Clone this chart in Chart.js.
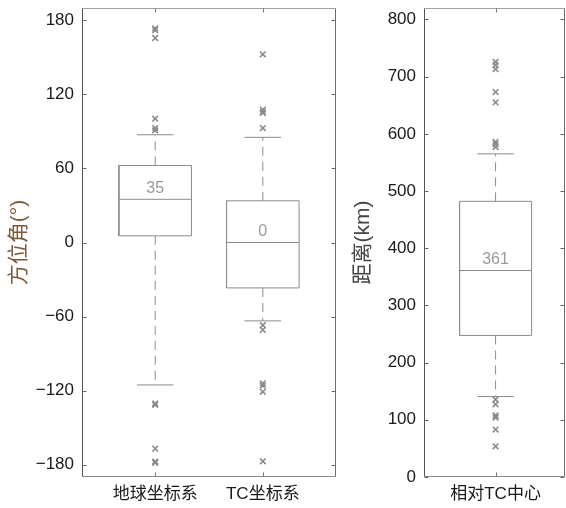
<!DOCTYPE html>
<html>
<head>
<meta charset="utf-8">
<script src="https://cdn.jsdelivr.net/npm/chart.js@4.4.1/dist/chart.umd.min.js"></script>
<style>
  html, body { margin: 0; padding: 0; background: #fff; }
  .wrap { position: absolute; top: 0; height: 508px; }
  #leftWrap { left: 0; width: 345px; }
  #rightWrap { left: 345px; width: 221px; }
</style>
</head>
<body>
<div class="wrap" id="leftWrap"><canvas id="leftChart"></canvas></div>
<div class="wrap" id="rightWrap"><canvas id="rightChart"></canvas></div>
<script>
// left panel: azimuth (deg) in two frames
const leftCategories = ['地球坐标系', 'TC坐标系'];
const leftQ1 = [5.4, -36.8];
const leftMedian = [35, 0];
const leftQ3 = [62.4, 33.8];
const leftLowerWhisker = [-115.4, -63.5];
const leftUpperWhisker = [87.3, 85.2];
const leftOutliers = [
    [173.5, 172, 165.7, 100.3, 92.7, 90.8, -130.5, -131.5, -167, -177.5, -178.5],
    [152.5, 107.6, 105.7, 105, 92.7, -67, -70.8, -114.1, -116, -121, -177.3]
];
const leftTicks = [-180, -120, -60, 0, 60, 120, 180];

// right panel: distance (km) from TC centre
const rightCategories = ['相对TC中心'];
const rightQ1 = [247.5];
const rightMedian = [361];
const rightQ3 = [482];
const rightLowerWhisker = [140.7];
const rightUpperWhisker = [565];
const rightOutliers = [
    [725.7, 720, 713, 673, 655, 586, 582, 577, 135.5, 127, 107.5, 104, 83, 53.7]
];
const rightTicks = [0, 100, 200, 300, 400, 500, 600, 700, 800];

const BOX_HALF = 0.337;
const CAP_HALF = 0.17;
const LINE_COLOR = '#8c8c8c';
const FONT = '"Liberation Sans", Arial, "Noto Sans CJK SC", sans-serif';

function seg(points, dashed) {
    return {
        data: points,
        showLine: true,
        borderColor: LINE_COLOR,
        borderWidth: 1,
        borderDash: dashed ? [9, 6] : [],
        pointRadius: 0,
        fill: false,
        tension: 0
    };
}

function boxDatasets(q1, med, q3, lw, uw, outliers) {
    const sets = [];
    q1.forEach((_, i) => {
        const x = i + 1;
        sets.push(seg([
            { x: x - BOX_HALF, y: q1[i] }, { x: x + BOX_HALF, y: q1[i] },
            { x: x + BOX_HALF, y: q3[i] }, { x: x - BOX_HALF, y: q3[i] },
            { x: x - BOX_HALF, y: q1[i] }
        ]));
        sets.push(seg([{ x: x - BOX_HALF, y: med[i] }, { x: x + BOX_HALF, y: med[i] }]));
        sets.push(seg([{ x: x, y: q3[i] }, { x: x, y: uw[i] }], true));
        sets.push(seg([{ x: x, y: q1[i] }, { x: x, y: lw[i] }], true));
        sets.push(seg([{ x: x - CAP_HALF, y: uw[i] }, { x: x + CAP_HALF, y: uw[i] }]));
        sets.push(seg([{ x: x - CAP_HALF, y: lw[i] }, { x: x + CAP_HALF, y: lw[i] }]));
        sets.push({
            data: outliers[i].map(v => ({ x: x, y: v })),
            showLine: false,
            pointStyle: 'crossRot',
            pointRadius: 4,
            borderColor: '#8a8a8a',
            borderWidth: 1.6
        });
    });
    return sets;
}

// frame with inward ticks + median labels
const framePlugin = {
    id: 'frame',
    afterDraw(chart, args, opts) {
        const { ctx, chartArea: a, scales } = chart;
        const L = Math.round(a.left) + 0.5, R = Math.round(a.right) - 0.5;
        const T = Math.round(a.top) + 0.5, B = Math.round(a.bottom) - 0.5;
        ctx.save();
        ctx.lineWidth = 1;
        const line = (x1, y1, x2, y2, c) => {
            ctx.strokeStyle = c;
            ctx.beginPath(); ctx.moveTo(x1, y1); ctx.lineTo(x2, y2); ctx.stroke();
        };
        line(L, T, R, T, '#a0a0a0');
        line(R, T, R, B, '#6a6a6a');
        line(L, B, R, B, '#8a8a8a');
        line(L, T, L, B, '#555');
        scales.y.ticks.forEach(t => {
            const y = Math.round(scales.y.getPixelForValue(t.value)) + 0.5;
            line(L, y, L + 4, y, '#666');
            line(R - 4, y, R, y, '#666');
        });
        scales.x.ticks.forEach(t => {
            const x = Math.round(scales.x.getPixelForValue(t.value)) + 0.5;
            line(x, B, x, B - 4, '#777');
            line(x, T, x, T + 4, '#777');
        });
        ctx.fillStyle = '#9a9a9a';
        ctx.font = '16px ' + FONT;
        ctx.textAlign = 'center';
        ctx.textBaseline = 'bottom';
        (opts.medians || []).forEach((m, i) => {
            ctx.fillText(String(Math.round(m)), scales.x.getPixelForValue(i + 1), scales.y.getPixelForValue(m) - 3);
        });
        ctx.restore();
    }
};

function makeChart(canvasId, cfg) {
    return new Chart(document.getElementById(canvasId), {
        type: 'scatter',
        data: { datasets: cfg.datasets },
        options: {
            responsive: true,
            maintainAspectRatio: false,
            animation: false,
            events: [],
            layout: { autoPadding: false, padding: { top: 8, right: cfg.padRight, bottom: 0, left: 0 } },
            plugins: {
                legend: { display: false },
                tooltip: { enabled: false },
                frame: { medians: cfg.medians }
            },
            scales: {
                x: {
                    type: 'linear',
                    min: cfg.xMin,
                    max: cfg.xMax,
                    afterBuildTicks: s => { s.ticks = cfg.categories.map((_, i) => ({ value: i + 1 })); },
                    afterFit: s => { s.height = 31; s.paddingLeft = 0; s.paddingRight = 0; },
                    grid: { display: false, drawTicks: false },
                    border: { display: false },
                    ticks: {
                        padding: 7,
                        color: '#1a1a1a',
                        font: { family: FONT, size: 17 },
                        maxRotation: 0,
                        callback: v => cfg.categories[v - 1]
                    }
                },
                y: {
                    min: cfg.yMin,
                    max: cfg.yMax,
                    afterBuildTicks: s => { s.ticks = cfg.yTicks.map(v => ({ value: v })); },
                    afterFit: s => { s.width = cfg.yWidth; s.paddingTop = 0; s.paddingBottom = 0; },
                    grid: { display: false, drawTicks: false },
                    border: { display: false },
                    ticks: {
                        padding: 8,
                        color: '#1a1a1a',
                        font: { family: FONT, size: 17 },
                        callback: v => (v < 0 ? '\u2212' + Math.abs(v) : String(v))
                    },
                    title: {
                        display: true,
                        text: cfg.yTitle,
                        color: cfg.yTitleColor,
                        font: { family: FONT, size: 21 },
                        padding: { top: cfg.titlePad, bottom: 0 }
                    }
                }
            }
        },
        plugins: [framePlugin]
    });
}

makeChart('leftChart', {
    datasets: boxDatasets(leftQ1, leftMedian, leftQ3, leftLowerWhisker, leftUpperWhisker, leftOutliers),
    medians: leftMedian,
    categories: leftCategories,
    xMin: 0.32, xMax: 2.68,
    yMin: -190, yMax: 190,
    yTicks: leftTicks,
    yWidth: 82,
    padRight: 9,
    yTitle: '方位角(°)',
    yTitleColor: '#7d5a3c',
    titlePad: 7
});

makeChart('rightChart', {
    datasets: boxDatasets(rightQ1, rightMedian, rightQ3, rightLowerWhisker, rightUpperWhisker, rightOutliers),
    medians: rightMedian,
    categories: rightCategories,
    xMin: 0.33, xMax: 1.65,
    yMin: 0, yMax: 820,
    yTicks: rightTicks,
    yWidth: 79,
    padRight: 1,
    yTitle: '距离(km)',
    yTitleColor: '#444',
    titlePad: 6
});
</script>
</body>
</html>
